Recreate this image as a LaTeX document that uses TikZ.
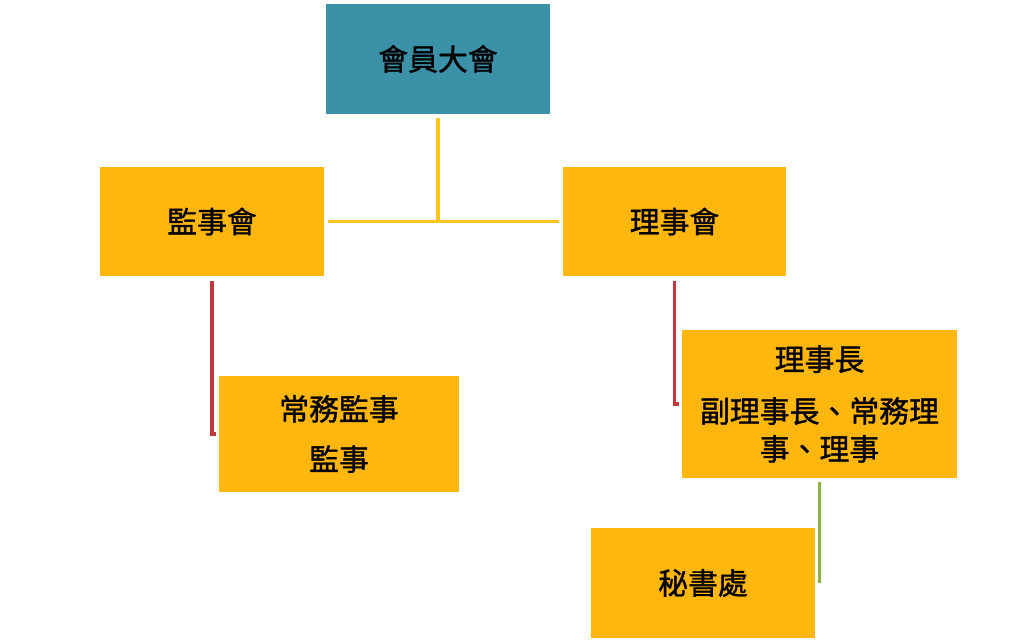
\documentclass[tikz,border=0pt]{standalone}
\usepackage{fontspec}
\usepackage{xcolor}
\usepackage{tikz}
\usetikzlibrary{positioning}
\newfontfamily\cjk[FakeBold=1.2]{Noto Sans CJK TC}
\definecolor{OrgTeal}{RGB}{58,145,168}
\definecolor{OrgGold}{RGB}{255,182,13}
\definecolor{OrgLine}{RGB}{255,194,30}
\definecolor{OrgRed}{RGB}{192,57,63}
\definecolor{OrgGreen}{RGB}{139,180,63}

\begin{document}
\begin{tikzpicture}[
  x=0.02cm, y=-0.02cm,
  font=\cjk\fontsize{17}{21.5}\selectfont,
  unit/.style={draw=none, fill=#1, align=center, inner sep=0pt,
               minimum width=4.48cm, minimum height=2.2cm},
  unit/.default=OrgGold,
  link/.style={draw=#1, line width=2.2pt, shorten <=0.08cm, shorten >=0.06cm},
]
  \useasboundingbox (0,0) rectangle (1024,642);

  \node[unit=OrgTeal] (assembly) at (438,59) {會員大會};
  \node[unit] (supervisors) at (212,221.5) {監事會};
  \node[unit] (directors) at (674.5,221.5) {理事會};
  \node[unit, minimum width=4.8cm, minimum height=2.32cm] (stdsup) at (339,434)
    {常務監事\\[7pt]監事};
  \node[unit, minimum width=5.5cm, minimum height=2.96cm] (chair) at (819.5,404)
    {理事長\\[8pt]副理事長、常務理\\事、理事};
  \node[unit] (secretariat) at (703,583) {秘書處};

  \coordinate (junction) at (assembly.south |- supervisors.east);
  \coordinate (secend) at (chair.south |- secretariat.east);

  \draw[link=OrgLine, shorten >=0pt] (assembly.south) -- (junction);
  \draw[link=OrgLine] (supervisors.east) -- (directors.west);
  \draw[link=OrgRed] (supervisors.south) |- (stdsup.west);
  \draw[link=OrgRed] (directors.south) |- (chair.west);
  \draw[link=OrgGreen, shorten >=0pt] (chair.south) -- (secend);
\end{tikzpicture}
\end{document}
